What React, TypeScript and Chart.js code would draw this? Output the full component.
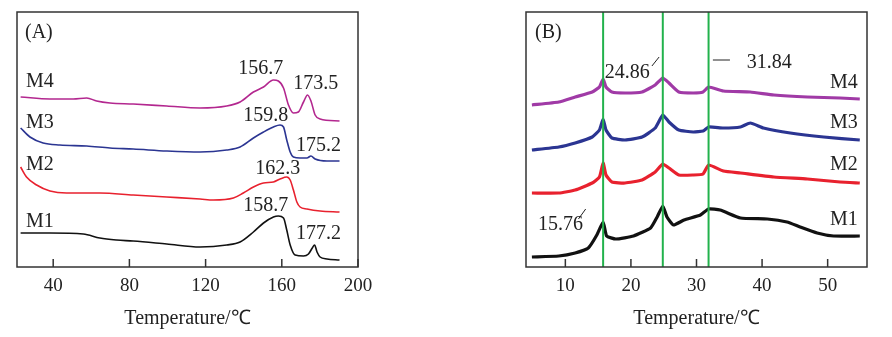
import { useEffect, useRef } from "react";
import { Chart, registerables } from "chart.js";
Chart.register(...registerables);

// ---------- Data ----------
const dscTicks = [40, 80, 120, 160, 200];
const xrdTicks = [10, 20, 30, 40, 50];
const xrdPeaks = [15.76, 24.86, 31.84];

// DSC (panel A), temperature (°C) and heat-flow (arb. units)
const dscM4T = [22.9, 38.3, 50.5, 57.6, 62.8, 69.8, 82, 99.6, 117.1, 131.1, 138.1, 145.1, 150.4, 155.6, 158.2, 160.9, 163.5, 166.1, 168.7, 171.4, 173.5, 175.3, 177.5, 180.1, 190.3];
const dscM4V = [170, 168, 168, 169, 166, 164, 163, 161, 159, 161, 165, 175, 180, 187, 186, 179, 162, 154, 155, 165, 172, 166, 152, 148, 146];
const dscM3T = [22.9, 27.8, 34.7, 43.5, 57.6, 69.8, 82, 99.6, 117.1, 131.1, 138.1, 145.1, 150.4, 155.6, 159.1, 160.9, 162.6, 164.4, 166.1, 169.6, 173.2, 175.3, 177.5, 183.7, 190.3];
const dscM3V = [139, 130, 124, 122, 121, 119, 118, 116, 115, 117, 120, 129, 135, 140, 142, 140, 127, 115, 110, 109, 109, 111, 108, 106, 106];
const dscM2T = [22.9, 26, 31.3, 38.3, 47, 64.5, 82, 99.6, 117.1, 124.1, 134.6, 139.8, 145.1, 150.4, 155.6, 159.1, 162.6, 164.4, 166.1, 167.9, 169.6, 173.2, 180.1, 190.3];
const dscM2V = [100, 90, 82, 76, 74, 74, 72, 70, 68, 67, 69, 74, 80, 84, 85, 88, 90, 87, 77, 65, 60, 58, 56, 55];
const dscM1T = [22.9, 38.3, 55.8, 64.5, 73.3, 82, 99.6, 117.1, 131.1, 138.1, 145.1, 150.4, 155.6, 158.2, 160.9, 162.6, 164.4, 167, 171.4, 174, 176, 177.2, 178.5, 180.1, 183.7, 190.3];
const dscM1V = [34, 34, 33, 29, 27, 26, 23, 20, 22, 25, 35, 44, 50, 51, 49, 37, 22, 12, 11, 13, 19, 22, 15, 10, 8, 7];

// XRD (panel B)
const xrdM4T = [4.9, 9, 11.5, 14.1, 15.2, 15.76, 16.2, 17.1, 19.1, 21.7, 23.7, 24.86, 25.8, 27.3, 29.5, 31.0, 31.84, 34.1, 38.2, 41.8, 46.9, 51.9, 54.9];
const xrdM4V = [162, 165, 170, 175, 180, 188, 180, 175, 174, 175, 182, 189, 184, 175, 174, 175, 180, 176, 175, 172, 170, 169, 168];
const xrdM3T = [4.9, 9, 11.5, 14.1, 15.2, 15.76, 16.2, 17.1, 19.1, 21.7, 23.7, 24.86, 25.8, 27.3, 29.5, 31.0, 31.84, 34.1, 36.7, 38.2, 40.2, 44.3, 49.4, 54.9];
const xrdM3V = [117, 120, 124, 130, 137, 148, 137, 129, 127, 130, 139, 152, 145, 137, 135, 136, 140, 139, 140, 144, 139, 134, 130, 127];
const xrdM2T = [4.9, 9, 11.5, 14.1, 15.2, 15.76, 16.2, 17.1, 19.1, 21.7, 23.7, 24.86, 25.8, 27.3, 29.5, 31.0, 31.84, 34.1, 36.7, 41.8, 46.9, 51.9, 54.9];
const xrdM2V = [74, 74, 77, 84, 90, 104, 92, 85, 84, 87, 95, 103, 99, 92, 92, 93, 102, 96, 94, 90, 88, 85, 84];
const xrdM1T = [4.9, 9, 11.5, 13.5, 14.8, 15.76, 16.3, 17.7, 20.4, 23, 24, 24.86, 25.5, 26.5, 28.1, 30.6, 31.84, 33.6, 36.7, 40.8, 43.8, 45.8, 48.4, 50.9, 54.9];
const xrdM1V = [10, 11, 14, 19, 32, 45, 31, 28, 31, 39, 50, 61, 50, 42, 47, 52, 58, 57, 49, 48, 45, 40, 34, 31, 31];

const SERIF = '"Liberation Serif", "Times New Roman", serif';
const TEXT = "#222";

type Ann = { text: string; x: number; y: number };
type Leader = { x1: number; y1: number; x2: number; y2: number };

const dscLabels: Ann[] = [
  { text: "(A)", x: 25.2, y: 229 },
  { text: "M4", x: 25.7, y: 180 },
  { text: "156.7", x: 137.1, y: 193 },
  { text: "173.5", x: 166, y: 178 },
  { text: "M3", x: 25.7, y: 139 },
  { text: "159.8", x: 139.7, y: 146 },
  { text: "175.2", x: 167.5, y: 116 },
  { text: "M2", x: 25.7, y: 97 },
  { text: "162.3", x: 146, y: 93 },
  { text: "158.7", x: 139.7, y: 56 },
  { text: "M1", x: 25.7, y: 40 },
  { text: "177.2", x: 167.5, y: 28 },
];

const xrdLabels: Ann[] = [
  { text: "(B)", x: 5.37, y: 229 },
  { text: "24.86", x: 16.0, y: 189 },
  { text: "31.84", x: 37.65, y: 199 },
  { text: "M4", x: 50.35, y: 179 },
  { text: "M3", x: 50.35, y: 139 },
  { text: "M2", x: 50.35, y: 97 },
  { text: "M1", x: 50.35, y: 42 },
  { text: "15.76", x: 5.84, y: 37 },
];
const xrdLeaders: Leader[] = [
  { x1: 23.2, y1: 201, x2: 24.3, y2: 210 },
  { x1: 32.5, y1: 207, x2: 35.1, y2: 207 },
  { x1: 12.0, y1: 48, x2: 13.1, y2: 58 },
];

function pts(t: number[], v: number[]) {
  return t.map((x, i) => ({ x, y: v[i] }));
}

function makeDecor(labels: Ann[], leaders: Leader[], vlines: number[]) {
  return {
    id: "decor",
    afterDatasetsDraw(chart: any) {
      const { ctx, chartArea: a, scales } = chart;
      const xs = scales.x;
      ctx.save();
      ctx.strokeStyle = "#22b24c";
      ctx.lineWidth = 2;
      vlines.forEach((v) => {
        const px = xs.getPixelForValue(v);
        ctx.beginPath();
        ctx.moveTo(px, a.top);
        ctx.lineTo(px, a.bottom);
        ctx.stroke();
      });
      ctx.restore();
    },
    afterDraw(chart: any) {
      const { ctx, chartArea: a, scales } = chart;
      const xs = scales.x;
      const ys = scales.y;
      ctx.save();
      ctx.strokeStyle = "#333";
      ctx.lineWidth = 1.5;
      ctx.strokeRect(a.left, a.top, a.right - a.left, a.bottom - a.top);
      xs.ticks.forEach((t: any) => {
        const px = xs.getPixelForValue(t.value);
        ctx.beginPath();
        ctx.moveTo(px, a.bottom);
        ctx.lineTo(px, a.bottom - 8);
        ctx.stroke();
      });
      ctx.fillStyle = TEXT;
      ctx.font = `20px ${SERIF}`;
      ctx.textAlign = "left";
      ctx.textBaseline = "alphabetic";
      labels.forEach((l) => {
        ctx.fillText(l.text, xs.getPixelForValue(l.x), ys.getPixelForValue(l.y));
      });
      ctx.strokeStyle = TEXT;
      ctx.lineWidth = 1;
      leaders.forEach((l) => {
        ctx.beginPath();
        ctx.moveTo(xs.getPixelForValue(l.x1), ys.getPixelForValue(l.y1));
        ctx.lineTo(xs.getPixelForValue(l.x2), ys.getPixelForValue(l.y2));
        ctx.stroke();
      });
      ctx.restore();
    },
  };
}

function buildOptions(min: number, max: number, ticks: number[], pad: any) {
  return {
    responsive: false,
    animation: false as const,
    devicePixelRatio: 1,
    layout: { padding: pad },
    plugins: { legend: { display: false }, tooltip: { enabled: false } },
    elements: { point: { radius: 0 } },
    scales: {
      x: {
        type: "linear" as const,
        min,
        max,
        afterBuildTicks: (s: any) => {
          s.ticks = ticks.map((value) => ({ value }));
        },
        afterFit: (s: any) => {
          s.height = 70;
        },
        grid: { display: false },
        border: { display: false },
        ticks: {
          padding: 0,
          autoSkip: false,
          maxRotation: 0,
          color: TEXT,
          font: { family: SERIF, size: 19 },
        },
        title: {
          display: true,
          text: "Temperature/℃",
          color: TEXT,
          font: { family: SERIF, size: 20 },
          padding: { top: 0, bottom: 6 },
        },
      },
      y: { display: false, min: 0, max: 255 },
    },
  };
}

function DscChart() {
  const ref = useRef<HTMLCanvasElement>(null);
  useEffect(() => {
    const ds = (label: string, t: number[], v: number[], color: string) => ({
      label,
      data: pts(t, v),
      borderColor: color,
      borderWidth: 1.6,
      cubicInterpolationMode: "monotone" as const,
      fill: false,
    });
    const chart = new Chart(ref.current!, {
      type: "line",
      data: {
        datasets: [
          ds("M4", dscM4T, dscM4V, "#b3278f"),
          ds("M3", dscM3T, dscM3V, "#2b3592"),
          ds("M2", dscM2T, dscM2V, "#e8212e"),
          ds("M1", dscM1T, dscM1V, "#111111"),
        ],
      },
      options: buildOptions(21, 200, dscTicks, { left: 17, right: 22, top: 12, bottom: 0 }) as any,
      plugins: [makeDecor(dscLabels, [], [])],
    });
    return () => chart.destroy();
  }, []);
  return <canvas ref={ref} width={380} height={337} style={{ position: "absolute", left: 0, top: 0, width: 380, height: 337 }} />;
}

function XrdChart() {
  const ref = useRef<HTMLCanvasElement>(null);
  useEffect(() => {
    const ds = (label: string, t: number[], v: number[], color: string) => ({
      label,
      data: pts(t, v),
      borderColor: color,
      borderWidth: 3.2,
      tension: 0.15,
      fill: false,
    });
    const chart = new Chart(ref.current!, {
      type: "line",
      data: {
        datasets: [
          ds("M4", xrdM4T, xrdM4V, "#a03aa6"),
          ds("M3", xrdM3T, xrdM3V, "#2b3592"),
          ds("M2", xrdM2T, xrdM2V, "#e8212e"),
          ds("M1", xrdM1T, xrdM1V, "#111111"),
        ],
      },
      options: buildOptions(4, 56, xrdTicks, { left: 26, right: 25, top: 12, bottom: 0 }) as any,
      plugins: [makeDecor(xrdLabels, xrdLeaders, xrdPeaks)],
    });
    return () => chart.destroy();
  }, []);
  return <canvas ref={ref} width={392} height={337} style={{ position: "absolute", left: 500, top: 0, width: 392, height: 337 }} />;
}

export default function App() {
  return (
    <div style={{ position: "absolute", left: 0, top: 0, width: 892, height: 337, background: "#fff", overflow: "hidden" }}>
      <DscChart />
      <XrdChart />
    </div>
  );
}
